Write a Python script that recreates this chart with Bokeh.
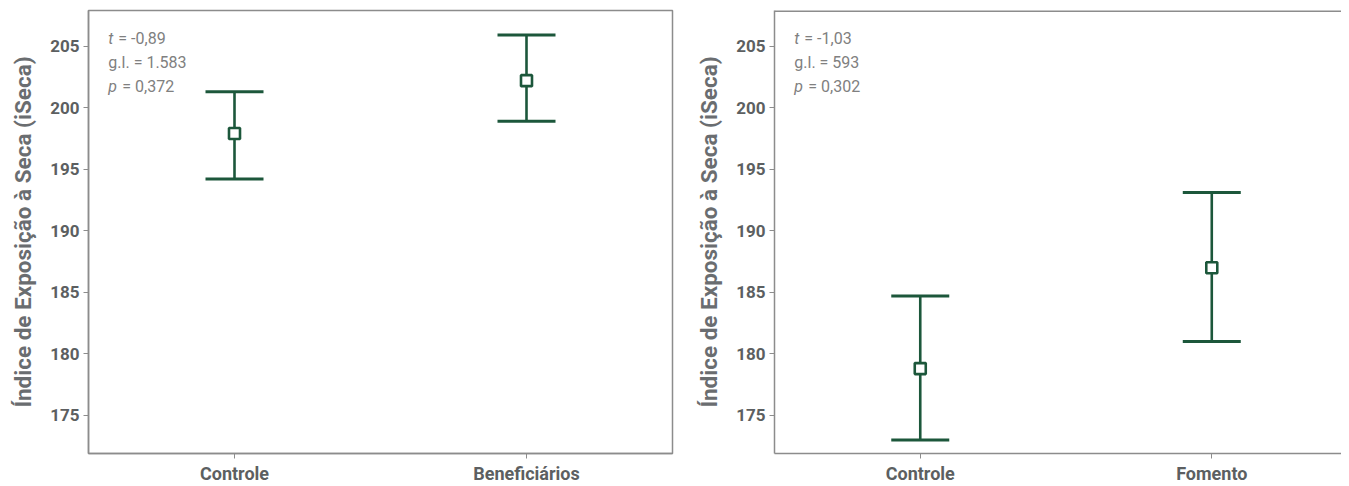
from bokeh.plotting import figure
from bokeh.layouts import row
from bokeh.models import (ColumnDataSource, Whisker, TeeHead, Range1d, FixedTicker,
                          Label, Span)
from bokeh.embed import file_html
from bokeh.resources import INLINE

# ---- data ----
cats_left = ["Controle", "Beneficiários"]
mean_left = [197.9, 202.2]
upper_left = [201.3, 205.9]
lower_left = [194.2, 198.9]
stats_left = [("t", "= -0,89"), ("", "g.l. = 1.583"), ("p", "= 0,372")]

cats_right = ["Controle", "Fomento"]
mean_right = [178.8, 187.0]
upper_right = [184.7, 193.1]
lower_right = [173.0, 181.0]
stats_right = [("t", "= -1,03"), ("", "g.l. = 593"), ("p", "= 0,302")]

y_ticks = [175, 180, 185, 190, 195, 200, 205]
y_title = "Índice de Exposição à Seca (iSeca)"

GREEN = "#1c573b"
AXIS = "#8c8c8c"
TICKTXT = "#5c5f61"
TITLE = "#6a6d70"
NOTE = "#808080"
FONT = "Roboto"
Y0, Y1 = 171.9, 207.9


def make_panel(cats, means, uppers, lowers, stats, width, border_left, border_right,
               x_end, full_outline):
    xs = [i + 0.5 for i in range(len(cats))]
    src = ColumnDataSource(dict(x=xs, mean=means, upper=uppers, lower=lowers))
    p = figure(width=width, height=486, output_backend="svg", toolbar_location=None,
               x_range=Range1d(0, x_end), y_range=Range1d(Y0, Y1),
               min_border_left=border_left, min_border_top=10, min_border_bottom=33,
               min_border_right=border_right)
    p.grid.visible = False
    p.background_fill_color = "white"
    if full_outline:
        p.outline_line_color = AXIS
        p.outline_line_width = 1.5
    else:
        p.outline_line_color = None
        p.add_layout(Span(location=Y1, dimension="width", line_color=AXIS,
                          line_width=3))

    w = Whisker(base="x", upper="upper", lower="lower", source=src, dimension="height",
                line_color=GREEN, line_width=2.6,
                upper_head=TeeHead(size=58, line_color=GREEN, line_width=3),
                lower_head=TeeHead(size=58, line_color=GREEN, line_width=3))
    p.add_layout(w)
    p.scatter("x", "mean", source=src, marker="square", size=11,
              fill_color="white", line_color=GREEN, line_width=2.6)

    xa = p.below[0]
    ya = p.left[0]
    for ax in (xa, ya):
        ax.axis_line_color = AXIS
        ax.axis_line_width = 1.5
        ax.major_tick_line_color = AXIS
        ax.major_tick_line_width = 1
        ax.major_tick_out = 5
        ax.major_tick_in = 0
        ax.minor_tick_line_color = None
        ax.major_label_text_font = FONT
        ax.major_label_text_font_style = "bold"
        ax.major_label_text_color = TICKTXT

    xa.ticker = FixedTicker(ticks=xs)
    xa.major_label_overrides = {x: c for x, c in zip(xs, cats)}
    xa.major_label_text_font_size = "18px"
    xa.major_label_standoff = 4

    ya.ticker = FixedTicker(ticks=y_ticks)
    ya.major_label_text_font_size = "17px"
    ya.major_label_standoff = 4
    ya.axis_label = y_title
    ya.axis_label_text_font = FONT
    ya.axis_label_text_font_style = "bold"
    ya.axis_label_text_font_size = "22.5px"
    ya.axis_label_text_color = TITLE
    ya.axis_label_standoff = 11

    yvals = [205.65, 203.7, 201.75]
    for (ital, rest), yv in zip(stats, yvals):
        off = 0
        if ital:
            p.add_layout(Label(x=0.068, y=yv, text=ital, text_font=FONT,
                               text_font_style="italic", text_font_size="16px",
                               text_color=NOTE, text_baseline="middle"))
            off = 10 if ital == "t" else 14
        p.add_layout(Label(x=0.068, y=yv, x_offset=off, text=rest, text_font=FONT,
                           text_font_size="16px", text_color=NOTE,
                           text_baseline="middle"))
    return p


p1 = make_panel(cats_left, mean_left, upper_left, lower_left, stats_left,
                693, 88, 21, 2.0, True)
p2 = make_panel(cats_right, mean_right, upper_right, lower_right, stats_right,
                648, 80, 0, 1.945, False)

layout = row(p1, p2)
open("out.html", "w").write(file_html(layout, INLINE))
